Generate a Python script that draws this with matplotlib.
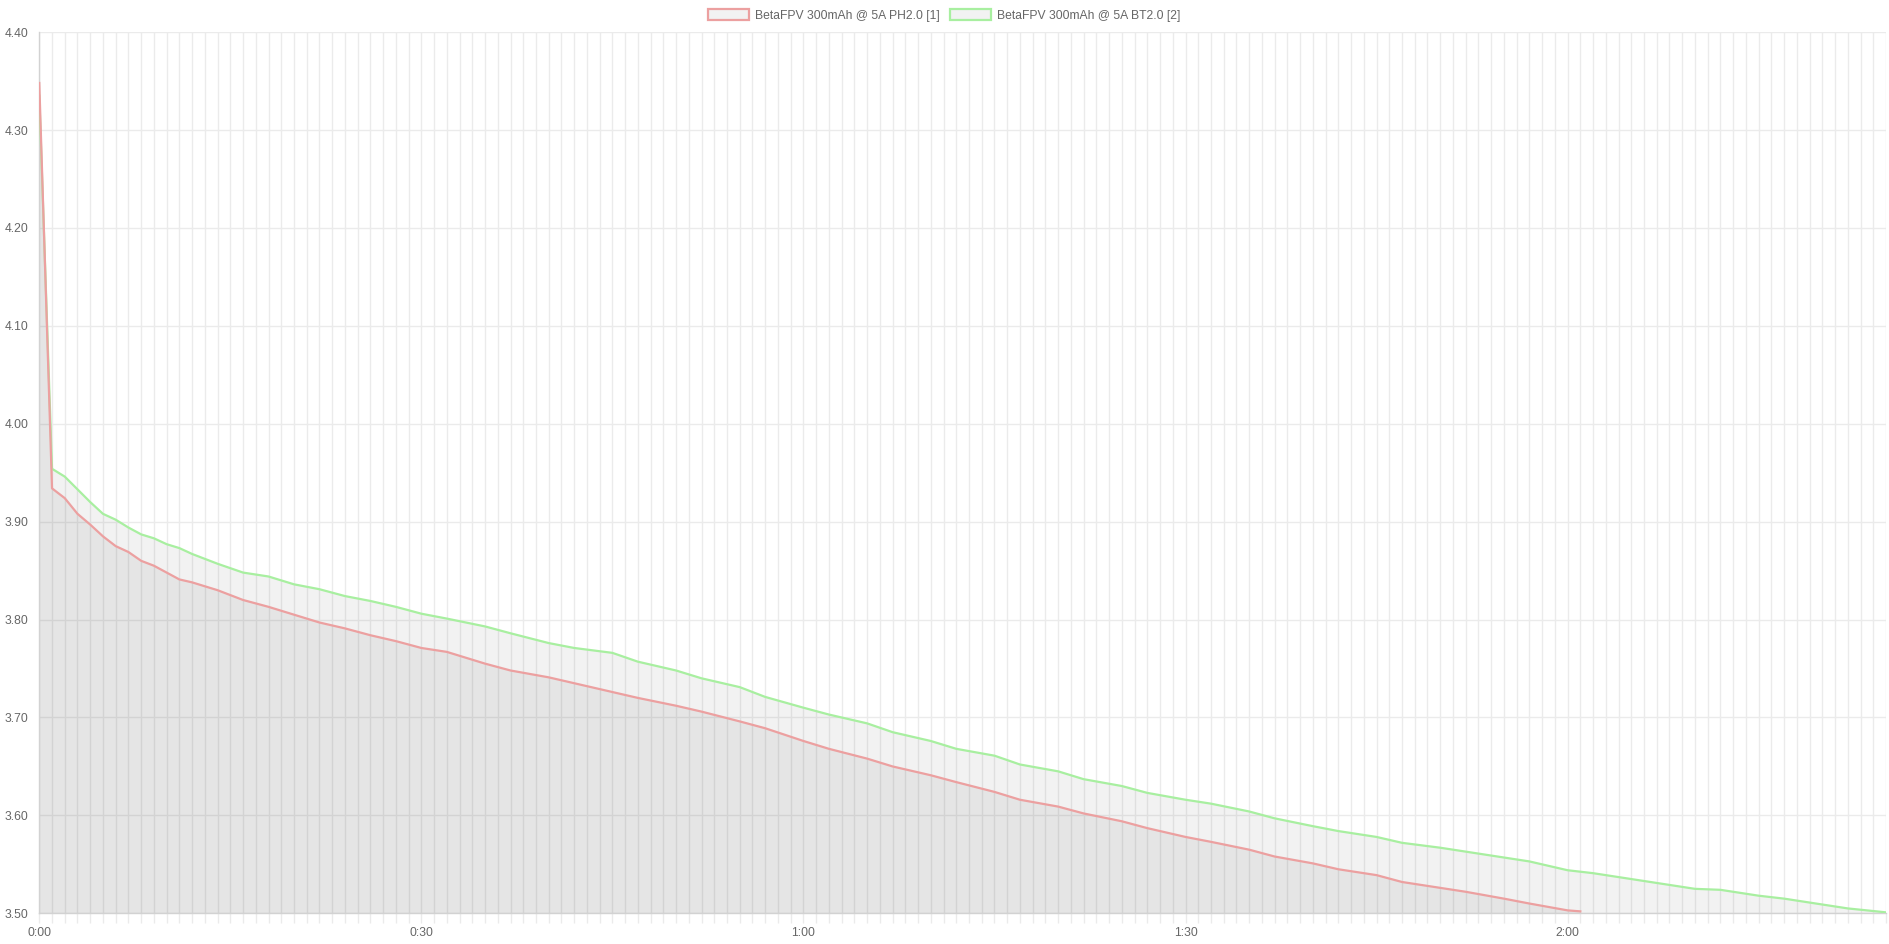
import matplotlib
matplotlib.use('Agg')
import matplotlib.pyplot as plt
from matplotlib.ticker import MultipleLocator, FuncFormatter
from matplotlib.patches import Patch

plt.rcParams['font.family'] = ['Liberation Sans', 'DejaVu Sans']

# Data (time in seconds, voltage per cell)
ph_label = 'BetaFPV 300mAh @ 5A PH2.0 [1]'
ph_t = [0, 1, 2, 3, 4, 5, 6, 7, 8, 9, 10, 11, 12,
        14, 16, 18, 20, 22, 24, 26, 28, 30,
        32, 35, 37, 40, 42, 45, 47, 50, 52, 55, 57, 60,
        62, 65, 67, 70, 72, 75, 77, 80, 82, 85, 87, 90,
        92, 95, 97, 100, 102, 105, 107, 110, 112, 115, 117, 120,
        121]
ph_v = [4.348, 3.934, 3.924, 3.908, 3.897, 3.885, 3.875, 3.869, 3.860, 3.855, 3.848, 3.841, 3.838,
        3.830, 3.820, 3.813, 3.805, 3.797, 3.791, 3.784, 3.778, 3.771,
        3.767, 3.755, 3.748, 3.741, 3.735, 3.726, 3.720, 3.712, 3.706, 3.696, 3.689, 3.676,
        3.668, 3.658, 3.650, 3.641, 3.634, 3.624, 3.616, 3.609, 3.602, 3.594, 3.587, 3.578,
        3.573, 3.565, 3.558, 3.551, 3.545, 3.539, 3.532, 3.526, 3.522, 3.515, 3.510, 3.503,
        3.502]

bt_label = 'BetaFPV 300mAh @ 5A BT2.0 [2]'
bt_t = [0, 1, 2, 3, 4, 5, 6, 7, 8, 9, 10, 11, 12,
        14, 16, 18, 20, 22, 24, 26, 28, 30,
        32, 35, 37, 40, 42, 45, 47, 50, 52, 55, 57, 60,
        62, 65, 67, 70, 72, 75, 77, 80, 82, 85, 87, 90,
        92, 95, 97, 100, 102, 105, 107, 110, 112, 115, 117, 120,
        122, 125, 127, 130, 132, 135, 137, 140, 142, 145]
bt_v = [4.335, 3.954, 3.946, 3.933, 3.920, 3.908, 3.902, 3.894, 3.887, 3.883, 3.877, 3.873, 3.867,
        3.857, 3.848, 3.844, 3.836, 3.831, 3.824, 3.819, 3.813, 3.806,
        3.801, 3.793, 3.786, 3.776, 3.771, 3.766, 3.757, 3.748, 3.740, 3.731, 3.721, 3.710,
        3.703, 3.694, 3.685, 3.676, 3.668, 3.661, 3.652, 3.645, 3.637, 3.630, 3.623, 3.616,
        3.612, 3.604, 3.597, 3.589, 3.584, 3.578, 3.572, 3.567, 3.563, 3.557, 3.553, 3.544,
        3.541, 3.535, 3.531, 3.525, 3.524, 3.518, 3.515, 3.509, 3.505, 3.501]

red = '#eca0a0'
green = '#a8efa0'
fillc = (0, 0, 0, 0.05)
gridc = '#ebebeb'
textc = '#666666'
fs = 8.7

fig = plt.figure(figsize=(18.89, 9.44), dpi=100)
ax = fig.add_axes([0.0208, 0.0325, 0.9776, 0.9335])

ax.fill_between(bt_t, bt_v, 3.5, color=fillc, lw=0)
ax.fill_between(ph_t, ph_v, 3.5, color=fillc, lw=0)
ax.plot(bt_t, bt_v, color=green, lw=1.6, zorder=3, solid_joinstyle='round')
ax.plot(ph_t, ph_v, color=red, lw=1.6, zorder=4, solid_joinstyle='round')

ax.set_xlim(0, 145)
ax.set_ylim(3.5, 4.4)

ax.xaxis.set_major_locator(MultipleLocator(1))
ax.yaxis.set_major_locator(MultipleLocator(0.1))

def fmt_time(x, pos):
    s = int(round(x))
    if s % 30:
        return ''
    return '%d:%02d' % (s // 60, s % 60)

ax.xaxis.set_major_formatter(FuncFormatter(fmt_time))
ax.yaxis.set_major_formatter(FuncFormatter(lambda y, p: '%.2f' % y))

ax.grid(True, color=gridc, lw=1, zorder=0)
ax.set_axisbelow(True)
ax.tick_params(axis='x', length=7, width=1, color=gridc, labelsize=fs, labelcolor=textc, pad=3)
ax.tick_params(axis='y', length=0, labelsize=fs, labelcolor=textc, pad=8)

for side in ['top', 'right']:
    ax.spines[side].set_visible(False)
for side in ['left', 'bottom']:
    ax.spines[side].set_color('#d2d2d2')
    ax.spines[side].set_linewidth(1)

handles = [Patch(facecolor='#f2f2f2', edgecolor=red, lw=1.6, label=ph_label),
           Patch(facecolor='#f2f2f2', edgecolor=green, lw=1.6, label=bt_label)]
leg = fig.legend(handles=handles, loc='center', bbox_to_anchor=(0.5, 0.9836), ncol=2,
                 frameon=False, fontsize=fs, handlelength=3.4, handleheight=1.0,
                 handletextpad=0.5, columnspacing=0.85, borderpad=0)
for t in leg.get_texts():
    t.set_color(textc)

fig.savefig('out.png', dpi=100)
